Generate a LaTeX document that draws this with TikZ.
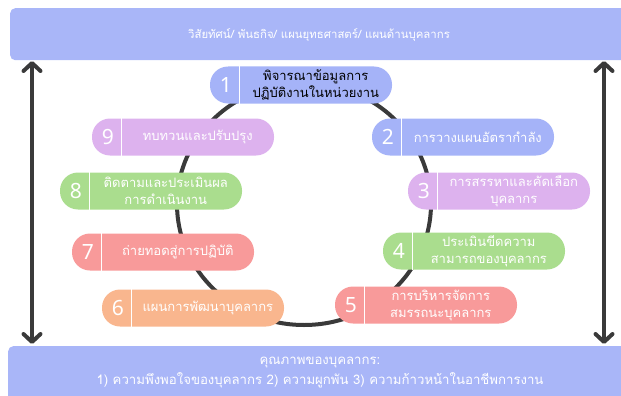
\documentclass[tikz,border=0pt]{standalone}
\usepackage{fontspec}
\newfontfamily\thai[Script=Thai]{Loma}
\newfontfamily\numfont{Noto Sans}
\usetikzlibrary{arrows.meta}

\definecolor{barblue}{HTML}{A9B6F8}
\definecolor{stepblue}{HTML}{A5B3F8}
\definecolor{steppurple}{HTML}{DDB2EE}
\definecolor{stepgreen}{HTML}{AADD8E}
\definecolor{stepred}{HTML}{F89A9A}
\definecolor{steporange}{HTML}{F9B68E}
\definecolor{inkdark}{HTML}{3A3A3A}

\tikzset{
  bar/.style={fill=barblue, rounded corners=5pt, inner sep=0pt},
  bartext/.style={text=white, align=center},
  pill/.style={rounded corners=18pt, minimum width=182pt, minimum height=37pt, inner sep=0pt},
  numtxt/.style={font=\numfont\fontsize{21}{21}\selectfont, text=white, inner sep=0pt},
  lbl/.style={font=\thai\fontsize{13}{17}\selectfont, align=center, inner sep=0pt},
  divider/.style={white, line width=1.3pt},
  ring/.style={inkdark, line width=4pt},
  updown/.style={inkdark, line width=4pt,
    {Straight Barb[round,length=8pt,width=17pt]}-{Straight Barb[round,length=8pt,width=17pt]}}
}

% one step of the cycle: [label colour] name, x, y, fill, number, label
\newcommand\cyclestep[7][white]{%
  \node[pill, fill=#5] (#2) at (#3,#4) {};
  \node[numtxt] (#2n) at ([xshift=16pt]#2.west) {#6};
  \draw[divider] ([xshift=30pt]#2.north west) -- ([xshift=30pt]#2.south west);
  \node[lbl, text=#1] (#2t) at ([xshift=106pt]#2.west) {#7};
}

\begin{document}
\begin{tikzpicture}[x=1pt,y=-1pt]
\useasboundingbox (0,0) rectangle (621,396);
\clip (0,0) rectangle (621,396);

% top and bottom bands
\node[bar, minimum width=640pt, minimum height=52pt, anchor=north west] (vision) at (10,8) {};
\node[bartext, font=\thai\fontsize{11.4}{14}\selectfont] (visiontxt) at (319,35)
  {วิสัยทัศน์/ พันธกิจ/ แผนยุทธศาสตร์/ แผนด้านบุคลากร};

\node[bar, minimum width=640pt, minimum height=62pt, anchor=north west] (quality) at (8,346) {};
\node[bartext, font=\thai\fontsize{13.2}{20}\selectfont] (qualitytxt) at (320,373)
  {คุณภาพของบุคลากร:\\1) ความพึงพอใจของบุคลากร 2) ความผูกพัน 3) ความก้าวหน้าในอาชีพการงาน};

% two-way links between the bands
\coordinate (lt) at (32,61);
\coordinate (lb) at (32,344);
\coordinate (rt) at (604,61);
\coordinate (rb) at (604,344);
\draw[updown] (lt) -- (lb);
\draw[updown] (rt) -- (rb);

% the cycle ring
\draw[ring] (304,204) ellipse [x radius=127, y radius=121];

% cycle steps
\cyclestep[black]{s1}{301}{85}{stepblue}{1}{พิจารณาข้อมูลการ\\ปฏิบัติงานในหน่วยงาน}
\cyclestep{s2}{463}{137}{stepblue}{2}{การวางแผนอัตรากำลัง}
\cyclestep{s3}{499}{191}{steppurple}{3}{การสรรหาและคัดเลือก\\บุคลากร}
\cyclestep{s4}{474}{251}{stepgreen}{4}{ประเมินขีดความ\\สามารถของบุคลากร}
\cyclestep{s5}{426}{305}{stepred}{5}{การบริหารจัดการ\\สมรรถนะบุคลากร}
\cyclestep{s6}{193}{308}{steporange}{6}{แผนการพัฒนาบุคลากร}
\cyclestep{s7}{163}{252}{stepred}{7}{ถ่ายทอดสู่การปฏิบัติ}
\cyclestep{s8}{151}{191}{stepgreen}{8}{ติดตามและประเมินผล\\การดำเนินงาน}
\cyclestep{s9}{183}{137}{steppurple}{9}{ทบทวนและปรับปรุง}
\end{tikzpicture}
\end{document}
